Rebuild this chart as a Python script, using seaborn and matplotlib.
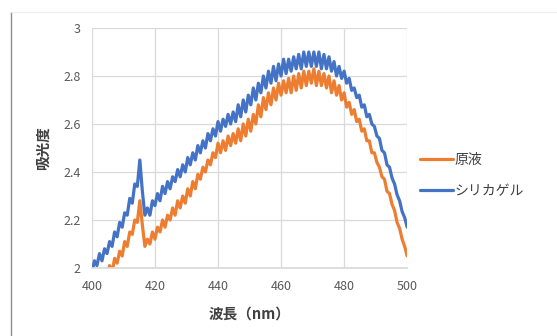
import numpy as np
import pandas as pd
import matplotlib
matplotlib.use("Agg")
import matplotlib.pyplot as plt
from matplotlib.lines import Line2D
import seaborn as sns

sns.set_theme(style="whitegrid")
plt.rcParams['font.family'] = ['Noto Sans CJK JP', 'DejaVu Sans']

# 波長 (nm): 0.8 nm 刻み
wavelength = np.linspace(400, 500, 126)

# 原液
genseki = [
    1.90, 1.95, 1.92, 1.97, 1.94, 1.99, 1.96, 2.01, 1.98, 2.04,
    2.02, 2.07, 2.05, 2.11, 2.09, 2.15, 2.14, 2.20, 2.19, 2.28,
    2.18, 2.09, 2.12, 2.10, 2.15, 2.12, 2.17, 2.15, 2.20, 2.17,
    2.22, 2.20, 2.25, 2.22, 2.28, 2.25, 2.30, 2.27, 2.33, 2.30,
    2.36, 2.33, 2.39, 2.37, 2.42, 2.40, 2.45, 2.43, 2.48, 2.46,
    2.52, 2.48, 2.53, 2.49, 2.55, 2.51, 2.56, 2.52, 2.58, 2.53,
    2.60, 2.55, 2.62, 2.57, 2.64, 2.60, 2.68, 2.63, 2.71, 2.66,
    2.73, 2.68, 2.75, 2.70, 2.77, 2.72, 2.78, 2.73, 2.79, 2.73,
    2.80, 2.74, 2.81, 2.75, 2.82, 2.76, 2.82, 2.77, 2.83, 2.76,
    2.82, 2.76, 2.81, 2.75, 2.80, 2.73, 2.78, 2.72, 2.76, 2.70,
    2.73, 2.67, 2.69, 2.64, 2.66, 2.61, 2.62, 2.57, 2.58, 2.53,
    2.53, 2.48, 2.48, 2.44, 2.42, 2.38, 2.37, 2.32, 2.31, 2.265,
    2.24, 2.19, 2.165, 2.12, 2.09, 2.05,
]

# シリカゲル
silica = [
    1.98, 2.03, 2.01, 2.06, 2.03, 2.08, 2.06, 2.11, 2.09, 2.15,
    2.13, 2.19, 2.17, 2.23, 2.22, 2.29, 2.27, 2.35, 2.34, 2.45,
    2.32, 2.22, 2.25, 2.22, 2.28, 2.26, 2.31, 2.28, 2.34, 2.31,
    2.36, 2.33, 2.38, 2.36, 2.41, 2.38, 2.43, 2.40, 2.46, 2.43,
    2.48, 2.45, 2.51, 2.48, 2.53, 2.50, 2.56, 2.53, 2.58, 2.55,
    2.61, 2.57, 2.62, 2.59, 2.64, 2.60, 2.65, 2.61, 2.68, 2.63,
    2.70, 2.65, 2.72, 2.68, 2.75, 2.70, 2.77, 2.73, 2.80, 2.75,
    2.82, 2.77, 2.84, 2.78, 2.85, 2.80, 2.87, 2.81, 2.87, 2.82,
    2.88, 2.83, 2.89, 2.83, 2.90, 2.84, 2.90, 2.84, 2.90, 2.84,
    2.90, 2.83, 2.89, 2.83, 2.88, 2.82, 2.86, 2.80, 2.84, 2.79,
    2.82, 2.77, 2.79, 2.74, 2.75, 2.71, 2.72, 2.67, 2.68, 2.63,
    2.64, 2.60, 2.59, 2.55, 2.54, 2.49, 2.48, 2.43, 2.42, 2.375,
    2.35, 2.305, 2.28, 2.235, 2.21, 2.17,
]

series_names = ["原液", "シリカゲル"]
series_colors = ["#ED7D31", "#4472C4"]
x_ticks = [400, 420, 440, 460, 480, 500]
y_ticks = [2, 2.2, 2.4, 2.6, 2.8, 3]
y_tick_labels = ["2", "2.2", "2.4", "2.6", "2.8", "3"]

df = pd.DataFrame({
    "波長": np.concatenate([wavelength, wavelength]),
    "吸光度": genseki + silica,
    "系列": [series_names[0]] * len(genseki) + [series_names[1]] * len(silica),
})

fig = plt.figure(figsize=(5.57, 3.36), dpi=100)
ax = fig.add_axes([0.165, 0.2024, 0.566, 0.7143])

sns.lineplot(data=df, x="波長", y="吸光度", hue="系列",
             palette=dict(zip(series_names, series_colors)),
             linewidth=2.3, ax=ax, estimator=None, sort=False)

ax.set_xlim(400, 500)
ax.set_ylim(2, 3)
ax.set_xticks(x_ticks)
ax.set_yticks(y_ticks)
ax.set_yticklabels(y_tick_labels)
ax.grid(True, color="#d9d9d9", linewidth=0.9)
ax.set_facecolor("white")
for s in ax.spines.values():
    s.set_visible(False)
ax.spines["bottom"].set_visible(True)
ax.spines["bottom"].set_color("#d9d9d9")
ax.tick_params(axis="both", length=0, labelsize=9, labelcolor="#595959")
ax.tick_params(axis="x", pad=9)
ax.tick_params(axis="y", pad=8)

ax.set_xlabel("波長（nm）", fontsize=10.5, fontweight="bold", color="#404040", labelpad=9)
ax.set_ylabel("吸光度", fontsize=10.5, fontweight="bold", color="#404040", labelpad=9)

leg = ax.legend(loc="center left", bbox_to_anchor=(1.0, 0.385), frameon=False,
                fontsize=10, handlelength=2.4, handletextpad=0.1, labelspacing=1.2)
for t in leg.get_texts():
    t.set_color("#404040")

# 枠線
fig.add_artist(Line2D([0.02, 0.02], [0.0, 0.963], color="#8c8c8c", linewidth=1.0))
fig.add_artist(Line2D([0.02, 1.0], [0.963, 0.963], color="#eeeeee", linewidth=0.8))

fig.savefig("out.png", dpi=100, facecolor="white")
